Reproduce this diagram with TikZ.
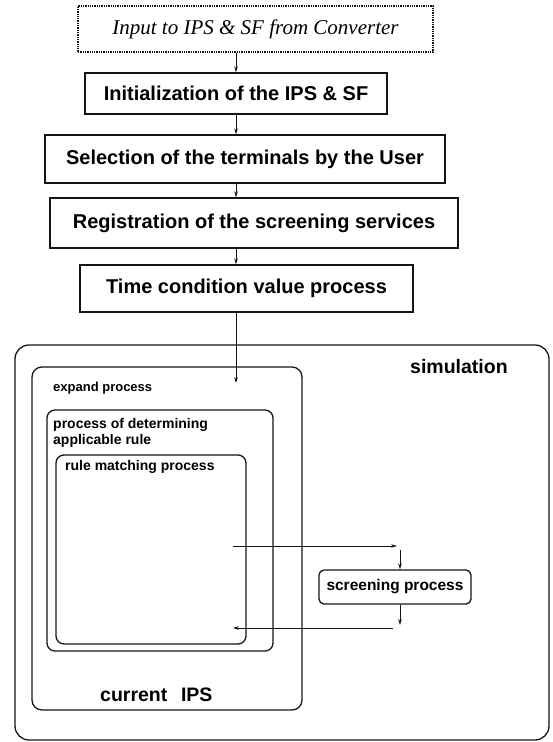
\documentclass[tikz,border=0pt]{standalone}
\usepackage{fontspec}
\setsansfont{Liberation Sans}
\newfontfamily\serifit{Liberation Serif}
\usepackage{tikz}
\usetikzlibrary{arrows.meta,positioning,calc}
\definecolor{ink}{HTML}{151515}

\begin{document}
\begin{tikzpicture}[x=1pt,y=-1pt,
  font=\sffamily\bfseries,
  stepbox/.style={draw=ink,line width=1.3pt,inner sep=0pt,align=center,font=\sffamily\bfseries\fontsize{20}{24}\selectfont},
  inbox/.style={draw=ink,densely dotted,line width=1.3pt,inner sep=0pt,align=center,font=\serifit\itshape\fontsize{21}{24}\selectfont},
  frame/.style={draw=ink,line width=1.3pt,rounded corners=12pt,inner sep=0pt},
  lbl/.style={inner sep=0pt,align=left,font=\sffamily\bfseries\fontsize{14}{16}\selectfont},
  big/.style={inner sep=0pt,font=\sffamily\bfseries\fontsize{19.5}{22}\selectfont},
  arr/.style={-{Stealth[length=6pt,width=3.6pt]},line width=0.8pt,draw=ink}
]
\useasboundingbox (0,0) rectangle (552,742);

% steps above the simulation
\node[inbox,minimum width=355pt,minimum height=46pt] (input) at (255.5,29) {Input to IPS \& SF from Converter};
\node[stepbox,minimum width=302pt,minimum height=41pt] (init) at (236,93.5) {Initialization of the IPS \& SF};
\node[stepbox,minimum width=400pt,minimum height=48pt] (select) at (245,159) {Selection of the terminals by the User};
\node[stepbox,minimum width=408pt,minimum height=50pt] (regist) at (254,223) {Registration of the screening services};
\node[stepbox,minimum width=333pt,minimum height=47pt] (timecond) at (246.5,288.5) {Time condition value process};

% nested processes
\node[frame,rounded corners=14pt,minimum width=534pt,minimum height=395pt] (simul) at (282,542.5) {};
\node[frame,rounded corners=10pt,minimum width=270pt,minimum height=343pt] (expand) at (167,538.5) {};
\node[frame,rounded corners=8pt,minimum width=226pt,minimum height=241pt] (determ) at (160,530.5) {};
\node[frame,rounded corners=8pt,minimum width=190pt,minimum height=189pt] (rulematch) at (151,549.5) {};
\node[frame,rounded corners=5pt,minimum width=152pt,minimum height=34pt] (screen) at (395,587) {};

\node[big,anchor=west] (simlbl) at (410,367) {simulation};
\node[lbl,anchor=west,font=\sffamily\bfseries\fontsize{13}{16}\selectfont] (explbl) at (53,388) {expand process};
\node[lbl,anchor=north west] (detlbl) at (53,418) {process of determining\\applicable rule};
\node[lbl,anchor=west] (rmlbl) at (65,467) {rule matching process};
\node[big,anchor=west] (curlbl) at (100,695) {current\hspace{0.7em}IPS};
\node[lbl,font=\sffamily\bfseries\fontsize{15.5}{18}\selectfont] (scrlbl) at (screen) {screening process};

% flow
\coordinate (flowx) at (236,0);
\coordinate (expin) at (236,383);
\draw[arr] (input.south -| flowx) -- (init.north -| flowx);
\draw[arr] (init.south -| flowx) -- (select.north -| flowx);
\draw[arr] (select.south -| flowx) -- (regist.north -| flowx);
\draw[arr] (regist.south -| flowx) -- (timecond.north -| flowx);
\draw[arr] (timecond.south -| flowx) -- (expin);

% call of the screening process
\coordinate (rmout) at (233,546);
\coordinate (toscr) at (397,546);
\coordinate (scrin) at (400,550);
\coordinate (scrout) at (400,625);
\coordinate (retin) at (393,628);
\coordinate (rmin) at (233,628);
\draw[arr] (rmout) -- (toscr);
\draw[arr] (scrin) -- (scrin |- screen.north);
\draw[arr] (screen.south -| scrin) -- (scrout);
\draw[arr] (retin) -- (rmin);
\end{tikzpicture}
\end{document}
